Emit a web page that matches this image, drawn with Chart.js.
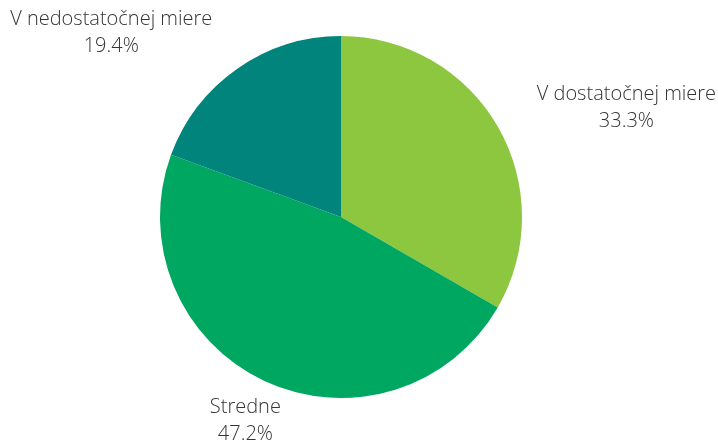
<!DOCTYPE html>
<html>
<head>
<meta charset="utf-8">
<script src="https://cdn.jsdelivr.net/npm/chart.js@4"></script>
<style>
  html, body { margin: 0; padding: 0; background: #fff; }
  #wrap { width: 718px; height: 443px; }
</style>
</head>
<body>
<div id="wrap"><canvas id="pie" width="718" height="443"></canvas></div>
<script>
// categories and values (percent)
var categories = ["V dostatočnej miere", "Stredne", "V nedostatočnej miere"];
var values = [33.3, 47.2, 19.4];
var colors = ["#8DC63F", "#00A760", "#00847C"];

// label placement relative to slice edge point (dx, dy, align)
var labelOffsets = [
	{ dx: 39, dy: -19, align: "left" },
	{ dx: -19, dy: 40, align: "center" },
	{ dx: -25, dy: -36, align: "right" },
];

var outsideLabels = {
	id: "outsideLabels",
	afterDraw: function (chart) {
		var ctx = chart.ctx;
		var meta = chart.getDatasetMeta(0);
		ctx.save();
		ctx.font = "300 20px 'Open Sans'";
		ctx.fillStyle = "#333333";
		ctx.textBaseline = "middle";
		meta.data.forEach(function (arc, i) {
			var mid = (arc.startAngle + arc.endAngle) / 2;
			var ex = arc.x + Math.cos(mid) * arc.outerRadius;
			var ey = arc.y + Math.sin(mid) * arc.outerRadius;
			var o = labelOffsets[i];
			var name = categories[i];
			var pct = values[i].toFixed(1) + "%";
			var w = ctx.measureText(name).width;
			var cx;
			if (o.align === "left") cx = ex + o.dx + w / 2;
			else if (o.align === "right") cx = ex + o.dx - w / 2;
			else cx = ex + o.dx;
			var cy = ey + o.dy;
			ctx.textAlign = "center";
			ctx.fillText(name, cx, cy - 13.5);
			ctx.fillText(pct, cx, cy + 13.5);
		});
		ctx.restore();
	},
};

var chart = new Chart(document.getElementById("pie").getContext("2d"), {
	type: "pie",
	data: {
		labels: categories,
		datasets: [
			{
				data: values,
				backgroundColor: colors,
				borderWidth: 0,
			},
		],
	},
	options: {
		responsive: false,
		animation: false,
		layout: { padding: { top: 36, bottom: 45, left: 160, right: 196 } },
		plugins: {
			legend: { display: false },
			tooltip: { enabled: false },
		},
	},
	plugins: [outsideLabels],
});
</script>
</body>
</html>
